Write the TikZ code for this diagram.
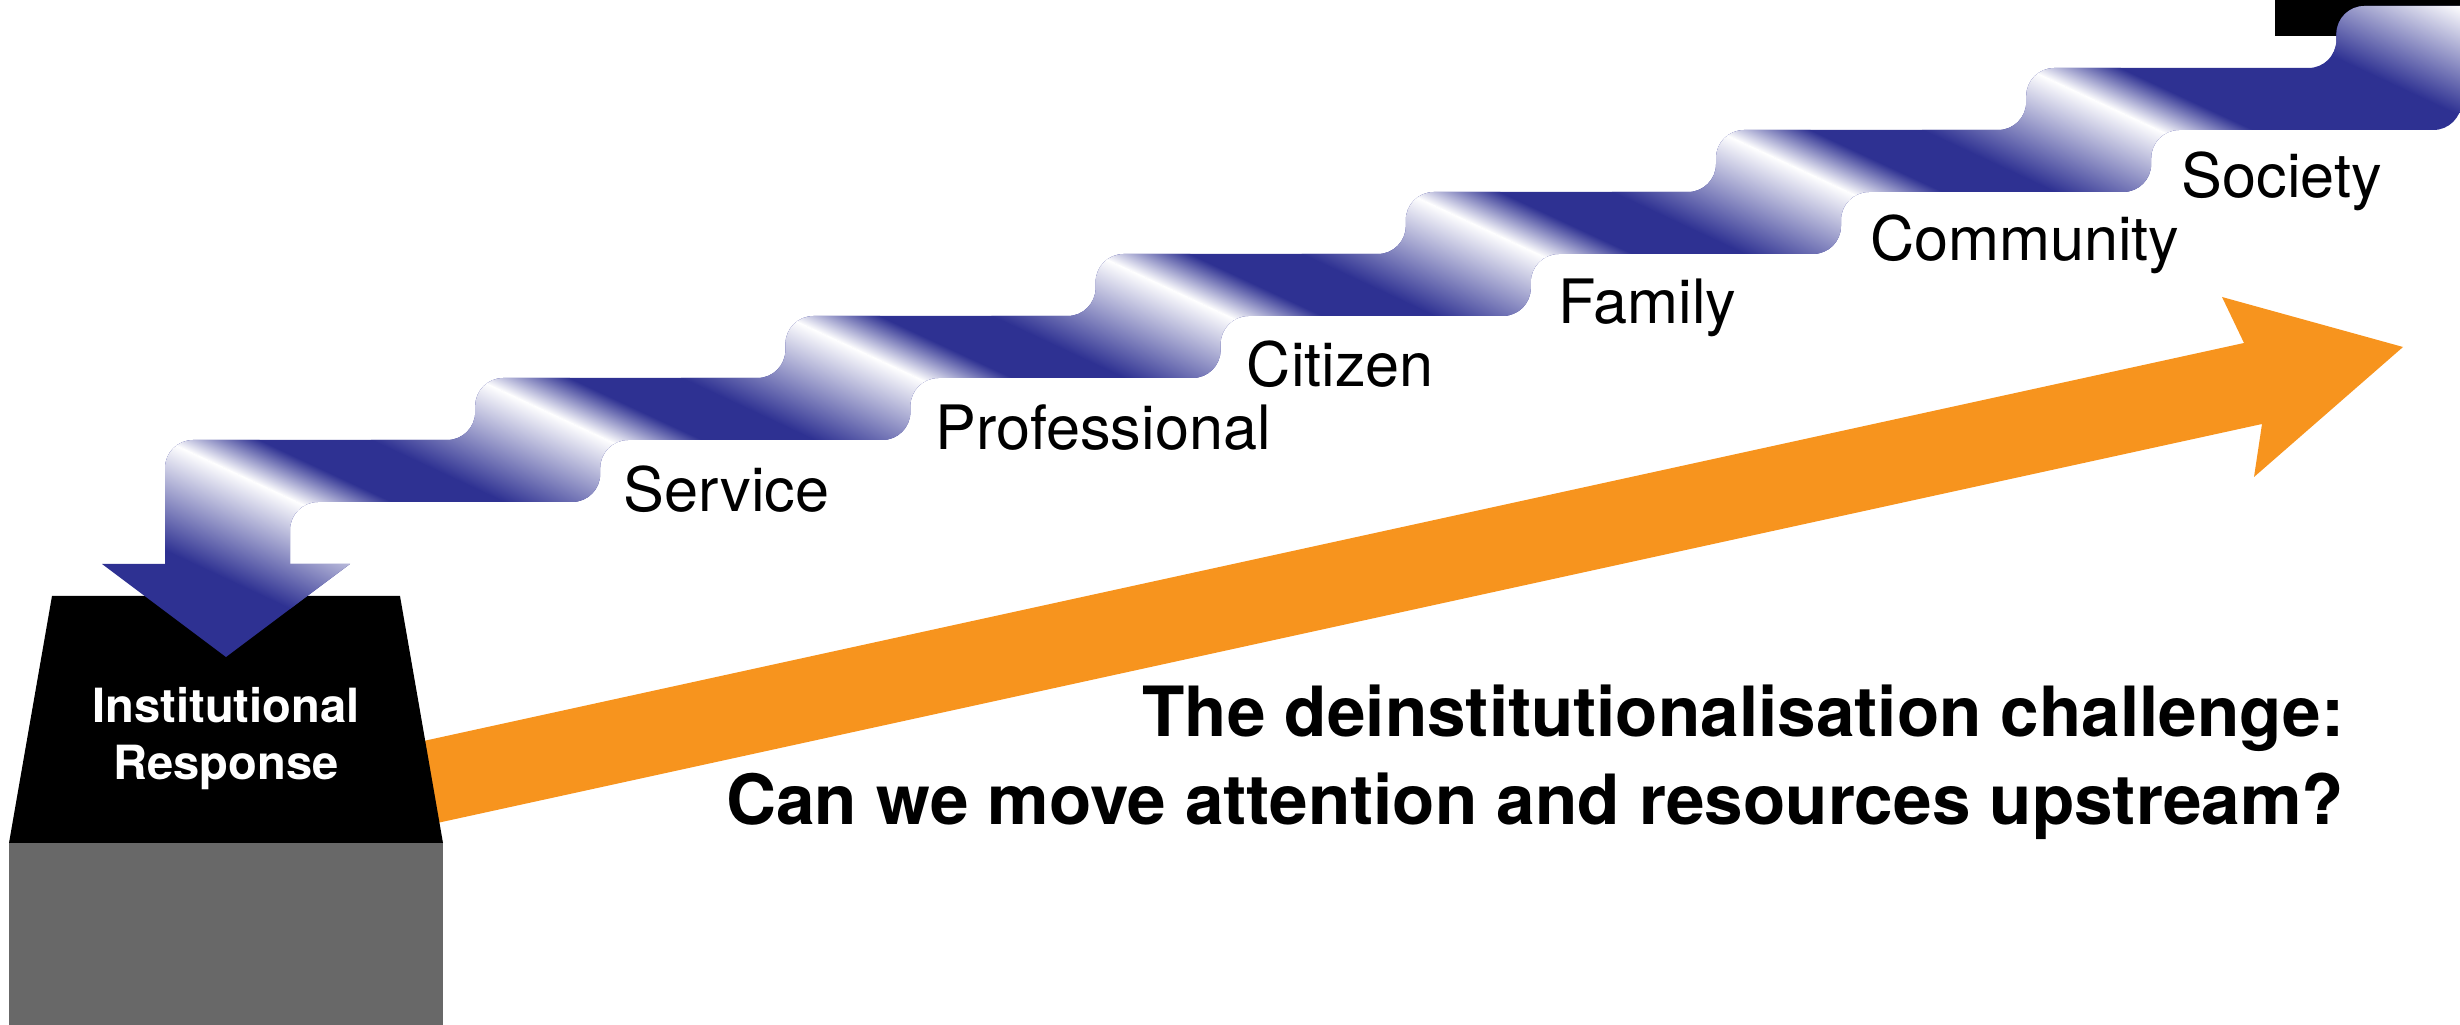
\documentclass[tikz,border=0pt]{standalone}
\usepackage{fontspec}
\setmainfont{TeX Gyre Heros}
\usepackage{xcolor}
\definecolor{stairblue}{RGB}{46,49,146}
\definecolor{arroworange}{RGB}{247,148,30}
\definecolor{basegray}{RGB}{104,104,104}
\tikzset{>=latex}
\tikzset{
  steplabel/.style={anchor=base west, inner sep=0pt, font=\fontsize{17.4}{20}\selectfont},
  titleline/.style={anchor=base east, inner sep=0pt, font=\bfseries\fontsize{19.7}{24}\selectfont},
  boxlabel/.style={align=center, text=white, inner sep=0pt, font=\bfseries\fontsize{13.4}{16.2}\selectfont}
}
% outline of the stairs (pixel units, y downwards)
\newcommand{\stairpath}{(165,600) [rounded corners=2.8mm] -- (165,440)
  \foreach \k in {1,...,7}{ -- ({165+310.2*\k},{502-62*\k}) -- ({165+310.2*\k},{440-62*\k}) }
  -- (2520,6) -- (2520,68)
  \foreach \k in {7,6,...,1}{ -- ({290+310.2*\k},{502-62*\k}) -- ({290+310.2*\k},{564-62*\k}) }
  -- (290,502) -- (290,600) -- cycle}
\newcommand{\headpath}{(102,564) -- (350,564) -- (226,657) -- cycle}
% white shine on every riser
\newcommand{\stairglow}{%
  \foreach \gx/\gy in {165/440, 475.2/378, 785.4/316, 1095.6/254, 1405.8/192, 1716/130, 2026.2/68, 2470/10}{%
    \begin{scope}[transform canvas={shift={(\gx,\gy)}, rotate=-25}]
      \shade[top color=stairblue, bottom color=white] (-300,-40) rectangle (300,0.5);
      \shade[top color=white, bottom color=stairblue] (-300,0) rectangle (300,100);
    \end{scope}
  }%
}

\begin{document}
\begin{tikzpicture}[x=0.01cm, y=-0.01cm]
  \useasboundingbox (0,0) rectangle (2460,1025);
  % orange arrow
  \fill[arroworange] (300,768) -- (2244,343) -- (2222,297) -- (2403,347) -- (2254,477) -- (2262,424) -- (300,853) -- cycle;
  % institution
  \fill[basegray] (9,843) rectangle (443,1030);
  \fill (52,596) -- (400,596) -- (443,843) -- (9,843) -- cycle;
  \fill (2275,-5) rectangle (2470,36);
  % stairs
  \fill[stairblue] \stairpath;
  \fill[stairblue] \headpath;
  \begin{scope}
    \clip \stairpath;
    \stairglow
  \end{scope}
  \begin{scope}
    \clip \headpath;
    \stairglow
  \end{scope}
  % texts
  \node[boxlabel] (inst) at (226,739) {Institutional\\Response};
  \foreach \lab [count=\k from 0] in {Service,Professional,Citizen,Family,Community,Society}
    \node[steplabel] (lab\k) at ({623+311.6*\k},{512-62.8*\k}) {\lab};
  \node[titleline] (title1) at (2345,737) {The deinstitutionalisation challenge:};
  \node[titleline] (title2) at (2345,824) {Can we move attention and resources upstream?};
\end{tikzpicture}
\end{document}
